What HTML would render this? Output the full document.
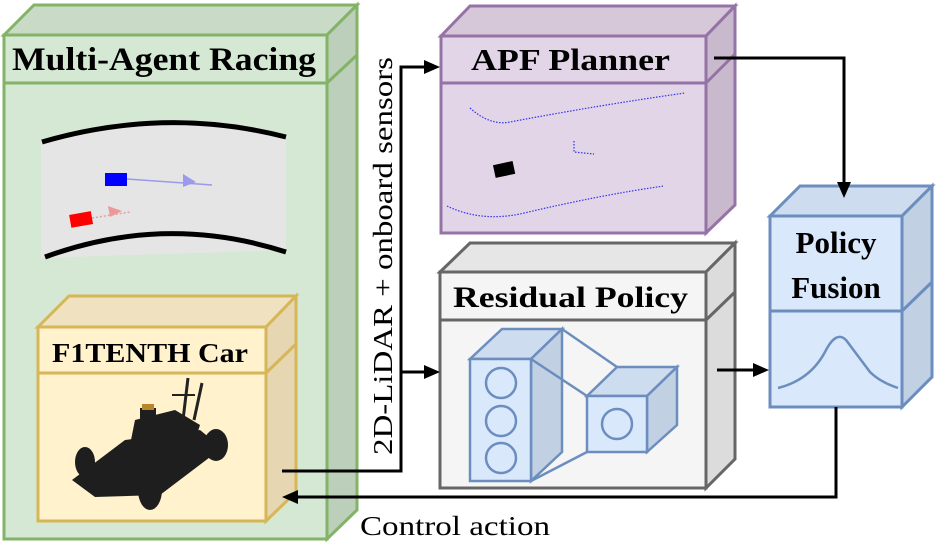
<!DOCTYPE html>
<html><head><meta charset="utf-8"><style>html,body{margin:0;padding:0;background:#fff}svg{display:block}svg text{font-family:"Liberation Serif","Times New Roman",Times,serif}</style></head>
<body>
<svg width="938" height="542" viewBox="0 0 938 542" xmlns="http://www.w3.org/2000/svg">
<!-- Green box -->
<g stroke="#82b366" stroke-width="3" stroke-linejoin="miter">
<polygon points="4,35 34,5 357,5 327,35" fill="#c9dbc6"/>
<polygon points="327,35 357,5 357,510 327,539" fill="#bccfba"/>
<rect x="4" y="35" width="323" height="504" fill="#d5e8d4"/>
<line x1="4" y1="83" x2="327" y2="83"/>
<line x1="327" y1="83" x2="357" y2="55"/>
</g>
<text x="12" y="70" font-family="Liberation Serif, Times New Roman, serif" font-size="33" font-weight="bold" textLength="304" lengthAdjust="spacingAndGlyphs">Multi-Agent Racing</text>
<!-- track -->
<path d="M41,140 L41,258 L286,250 L286,135 Q165,105 41,140Z" fill="#e5e5e5"/>
<path d="M42,142 Q165,106 286,137" fill="none" stroke="#000" stroke-width="5"/>
<path d="M45,257 Q165,213 286,252" fill="none" stroke="#000" stroke-width="5"/>
<rect x="105" y="173" width="22" height="13" fill="#0000ff"/>
<path d="M127,179 L212,185" stroke="#9a9aee" stroke-width="1.5"/>
<polygon points="183,174 196,182 183,187" fill="#9a9aee"/>
<rect x="70" y="213" width="22" height="13" fill="#ff0000" transform="rotate(-10 81 219)"/>
<path d="M92,218 L130,212" stroke="#e99" stroke-width="1.5" stroke-dasharray="2,2"/>
<polygon points="108,206 122,211 110,217" fill="#e99"/>
<!-- F1TENTH box -->
<g stroke="#d6b656" stroke-width="3">
<polygon points="38,327 69,296 296,296 266,327" fill="#f0e2c0"/>
<polygon points="266,327 296,296 296,492 266,521" fill="#e6d7b2"/>
<rect x="38" y="327" width="228" height="194" fill="#fff2cc"/>
<line x1="38" y1="373" x2="266" y2="373"/>
<line x1="266" y1="373" x2="296" y2="344"/>
</g>
<text x="52" y="362" font-family="Liberation Serif, Times New Roman, serif" font-size="27" font-weight="bold" textLength="196" lengthAdjust="spacingAndGlyphs">F1TENTH Car</text>
<!-- car -->
<g fill="#1e1e1e">
<polygon points="72,480 125,440 200,430 222,448 160,495 95,497"/>
<polygon points="130,445 135,420 175,410 200,425 195,440"/>
<rect x="140" y="408" width="16" height="16"/>
<rect x="142" y="404" width="12" height="6" fill="#b8862b"/>
<line x1="188" y1="378" x2="183" y2="420" stroke="#222" stroke-width="3"/>
<line x1="202" y1="383" x2="194" y2="420" stroke="#222" stroke-width="3"/>
<line x1="172" y1="395" x2="195" y2="395" stroke="#222" stroke-width="2"/>
<ellipse cx="216" cy="445" rx="12" ry="16"/>
<ellipse cx="150" cy="490" rx="12" ry="20"/>
<ellipse cx="85" cy="462" rx="10" ry="15"/>
</g>
<!-- Purple box -->
<g stroke="#9673a6" stroke-width="3">
<polygon points="441,36 470,6 735,6 706,36" fill="#d6c8d9"/>
<polygon points="706,36 735,6 735,205 706,233" fill="#c9b9cd"/>
<rect x="441" y="36" width="265" height="197" fill="#e1d5e7"/>
<line x1="441" y1="83" x2="706" y2="83"/>
<line x1="706" y1="83" x2="735" y2="54"/>
</g>
<text x="471" y="70" font-family="Liberation Serif, Times New Roman, serif" font-size="31" font-weight="bold" textLength="199" lengthAdjust="spacingAndGlyphs">APF Planner</text>
<g fill="none" stroke="#3333ee" stroke-width="1.2" stroke-dasharray="1.5,1.5">
<path d="M470,108 Q490,126 510,122 Q600,105 685,93"/>
<path d="M447,206 Q480,222 520,214 Q600,195 664,186"/>
<path d="M574,141 L574,152 L594,154"/>
</g>
<rect x="494" y="163" width="20" height="13" fill="#000" transform="rotate(-12 504 169)"/>
<!-- Residual -->
<g stroke="#666" stroke-width="3">
<polygon points="440,272 470,243 735,243 706,272" fill="#e6e6e6"/>
<polygon points="706,272 735,243 735,459 706,488" fill="#dcdcdc"/>
<rect x="440" y="272" width="266" height="216" fill="#f5f5f5"/>
<line x1="440" y1="320" x2="706" y2="320"/>
<line x1="706" y1="320" x2="735" y2="292"/>
</g>
<text x="453" y="307" font-family="Liberation Serif, Times New Roman, serif" font-size="30" font-weight="bold" textLength="235" lengthAdjust="spacingAndGlyphs">Residual Policy</text>
<g stroke="#6c8ebf" stroke-width="2.5">
<polygon points="470,359 502,329 562,329 531,359" fill="#cddcee"/>
<polygon points="531,359 562,329 562,452 531,481" fill="#c1d0e3"/>
<rect x="470" y="359" width="61" height="122" fill="#dae8fc"/>
<circle cx="501" cy="383" r="15" fill="none"/>
<circle cx="501" cy="421" r="15" fill="none"/>
<circle cx="501" cy="458" r="15" fill="none"/>
<line x1="562" y1="329" x2="617" y2="367"/>
<line x1="531" y1="359" x2="587" y2="396"/>
<line x1="531" y1="481" x2="587" y2="452"/>
<polygon points="587,396 617,367 677,367 647,396" fill="#cddcee"/>
<polygon points="647,396 677,367 677,425 647,452" fill="#c1d0e3"/>
<rect x="587" y="396" width="60" height="56" fill="#dae8fc"/>
<circle cx="617" cy="424" r="15" fill="none"/>
</g>
<!-- Policy Fusion -->
<g stroke="#6c8ebf" stroke-width="3">
<polygon points="770,216 800,186 932,186 902,216" fill="#cddcee"/>
<polygon points="902,216 932,186 932,377 902,407" fill="#c1d0e3"/>
<rect x="770" y="216" width="132" height="191" fill="#dae8fc"/>
<line x1="770" y1="311" x2="902" y2="311"/>
<line x1="902" y1="311" x2="932" y2="282"/>
</g>
<path d="M778,388 Q810,380 825,352 Q836,330 846,340 Q855,352 870,372 Q880,382 898,388" fill="none" stroke="#6c8ebf" stroke-width="2.5"/>
<text x="836" y="253" font-family="Liberation Serif, Times New Roman, serif" font-size="31" font-weight="bold" text-anchor="middle">Policy</text>
<text x="836" y="298" font-family="Liberation Serif, Times New Roman, serif" font-size="31" font-weight="bold" text-anchor="middle">Fusion</text>
<!-- connectors -->
<g fill="none" stroke="#000" stroke-width="3">
<path d="M282,471 L401,471 L401,67 L426,67"/>
<path d="M401,372 L426,372"/>
<path d="M714,58 L844,58 L844,184"/>
<path d="M717,370 L755,370"/>
<path d="M836,407 L836,497 L296,497"/>
</g>
<g fill="#000">
<polygon points="424,60 440,67 424,74"/>
<polygon points="424,365 440,372 424,379"/>
<polygon points="837,182 851,182 844,198"/>
<polygon points="753,363 769,370 753,377"/>
<polygon points="298,490 282,497 298,504"/>
</g>
<text transform="translate(392,455) rotate(-90)" font-family="Liberation Serif, Times New Roman, serif" font-size="27" textLength="398" lengthAdjust="spacingAndGlyphs">2D-LiDAR + onboard sensors</text>
<text x="360" y="535" font-family="Liberation Serif, Times New Roman, serif" font-size="27" textLength="190" lengthAdjust="spacingAndGlyphs">Control action</text>
</svg>
</body></html>
